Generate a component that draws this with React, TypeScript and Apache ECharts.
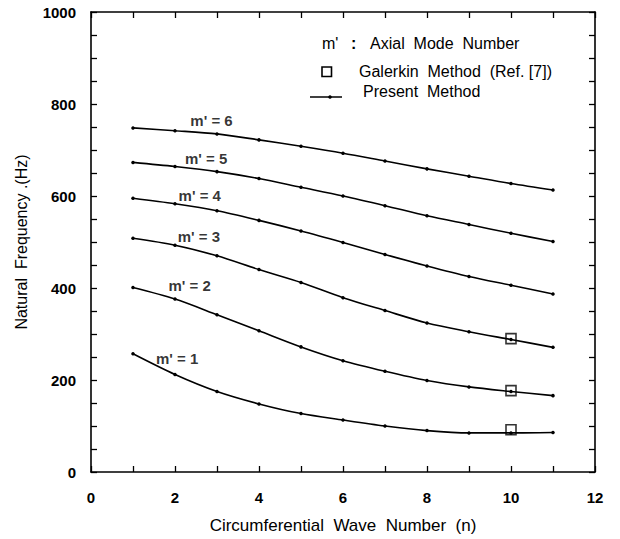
import React, { useEffect, useRef } from "react";
import * as echarts from "echarts";

// Circumferential wave number n
const waveNumbers = [1, 2, 3, 4, 5, 6, 7, 8, 9, 10, 11];

// Natural frequency (Hz), present method, per axial mode m'
const mode1 = [257, 212, 175, 148, 127, 113, 100, 90, 85, 85, 86];
const mode2 = [401, 376, 342, 307, 272, 242, 219, 199, 185, 175, 166];
const mode3 = [508, 493, 470, 440, 412, 379, 351, 324, 305, 288, 271];
const mode4 = [595, 583, 568, 547, 524, 499, 473, 448, 425, 406, 387];
const mode5 = [673, 664, 653, 638, 619, 600, 579, 557, 538, 519, 501];
const mode6 = [748, 742, 735, 722, 708, 693, 676, 659, 643, 627, 613];
const modes = [mode1, mode2, mode3, mode4, mode5, mode6];
const modeNames = ["m' = 1", "m' = 2", "m' = 3", "m' = 4", "m' = 5", "m' = 6"];

// Curve label anchors in data coordinates [n, Hz]
const labelAnchors = [
  [2.05, 246],
  [2.35, 405],
  [2.57, 513],
  [2.59, 601],
  [2.74, 682],
  [2.87, 765],
];

// Galerkin method (Ref. [7]) at n = 10, for m' = 3, 2, 1
const galerkinN = [10, 10, 10];
const galerkinHz = [290, 177, 92];

// Axis ticks
const xMin = 0;
const xMax = 12;
const xStep = 1;
const xLabelEvery = 2;
const yMin = 0;
const yMax = 1000;
const yStep = 50;
const yLabelEvery = 200;

const FONT = "'Liberation Sans', Arial, Helvetica, sans-serif";

export default function App() {
  const ref = useRef<HTMLDivElement>(null);

  useEffect(() => {
    document.body.style.margin = "0";
    const chart = echarts.init(ref.current!, null, { renderer: "svg" });

    const axisLine = { show: true, onZero: false, lineStyle: { color: "#000", width: 1.6 } };
    const axisTick = { show: true, inside: true, length: 6, lineStyle: { color: "#000", width: 1.3 } };

    const lineSeries = modes.map((m, i) => ({
      type: "line",
      name: modeNames[i],
      xAxisIndex: 0,
      yAxisIndex: 0,
      data: waveNumbers.map((n, j) => [n, m[j]]),
      smooth: 0.3,
      symbol: "circle",
      symbolSize: 3.5,
      showSymbol: true,
      itemStyle: { color: "#000" },
      lineStyle: { color: "#000", width: 1.6 },
      z: 2,
    }));

    const option: any = {
      animation: false,
      textStyle: { fontFamily: FONT },
      grid: { left: 91, right: 25, top: 12, bottom: 66 },
      xAxis: [
        {
          type: "value",
          position: "bottom",
          min: xMin,
          max: xMax,
          interval: xStep,
          axisLine,
          axisTick,
          splitLine: { show: false },
          axisLabel: {
            formatter: (v: number) => (v % xLabelEvery === 0 ? String(v) : ""),
            fontSize: 15,
            fontWeight: "bold",
            color: "#000",
            margin: 18,
            fontFamily: FONT,
          },
          name: "Circumferential  Wave  Number  (n)",
          nameLocation: "middle",
          nameGap: 45,
          nameTextStyle: { fontSize: 17, color: "#000", fontFamily: FONT },
        },
        {
          type: "value",
          position: "top",
          min: xMin,
          max: xMax,
          interval: xStep,
          axisLine,
          axisTick,
          splitLine: { show: false },
          axisLabel: { show: false },
        },
      ],
      yAxis: [
        {
          type: "value",
          position: "left",
          min: yMin,
          max: yMax,
          interval: yStep,
          axisLine,
          axisTick,
          splitLine: { show: false },
          axisLabel: {
            formatter: (v: number) => (v % yLabelEvery === 0 ? String(v) : ""),
            fontSize: 15,
            fontWeight: "bold",
            color: "#000",
            margin: 15,
            fontFamily: FONT,
          },
          name: "Natural  Frequency .(Hz)",
          nameLocation: "middle",
          nameGap: 62,
          nameRotate: 90,
          nameTextStyle: { fontSize: 16, color: "#000", fontFamily: FONT },
        },
        {
          type: "value",
          position: "right",
          min: yMin,
          max: yMax,
          interval: yStep,
          axisLine,
          axisTick,
          splitLine: { show: false },
          axisLabel: { show: false },
        },
      ],
      series: [
        ...lineSeries,
        {
          type: "scatter",
          name: "Galerkin Method (Ref. [7])",
          data: galerkinN.map((n, i) => [n, galerkinHz[i]]),
          symbol: "rect",
          symbolSize: 10,
          itemStyle: { color: "rgba(0,0,0,0)", borderColor: "#000", borderWidth: 1.6 },
          z: 3,
        },
        {
          type: "scatter",
          name: "labels",
          data: labelAnchors.map((p, i) => ({ value: p, name: modeNames[i] })),
          symbolSize: 0,
          silent: true,
          label: {
            show: true,
            position: "inside",
            formatter: (p: any) => p.name,
            fontSize: 15,
            fontWeight: "bold",
            color: "#000",
            fontFamily: FONT,
          },
          z: 4,
        },
      ],
      graphic: [
        {
          type: "text",
          left: 322,
          top: 35,
          style: { text: "m'", font: `16px ${FONT}`, fill: "#000" },
        },
        {
          type: "text",
          left: 351,
          top: 35,
          style: { text: ":", font: `bold 16px ${FONT}`, fill: "#000" },
        },
        {
          type: "text",
          left: 370,
          top: 35,
          style: { text: "Axial  Mode  Number", font: `16px ${FONT}`, fill: "#000" },
        },
        {
          type: "rect",
          shape: { x: 322, y: 67, width: 9.5, height: 9.5 },
          style: { fill: "none", stroke: "#000", lineWidth: 1.6 },
        },
        {
          type: "text",
          left: 359,
          top: 63,
          style: { text: "Galerkin  Method  (Ref. [7])", font: `16px ${FONT}`, fill: "#000" },
        },
        {
          type: "line",
          shape: { x1: 310, y1: 97, x2: 342, y2: 97 },
          style: { stroke: "#000", lineWidth: 1.5 },
        },
        {
          type: "circle",
          shape: { cx: 330, cy: 97, r: 1.8 },
          style: { fill: "#000" },
        },
        {
          type: "text",
          left: 363,
          top: 83,
          style: { text: "Present  Method", font: `16px ${FONT}`, fill: "#000" },
        },
      ],
    };

    chart.setOption(option);
    return () => chart.dispose();
  }, []);

  return <div ref={ref} style={{ width: 620, height: 539 }} />;
}
